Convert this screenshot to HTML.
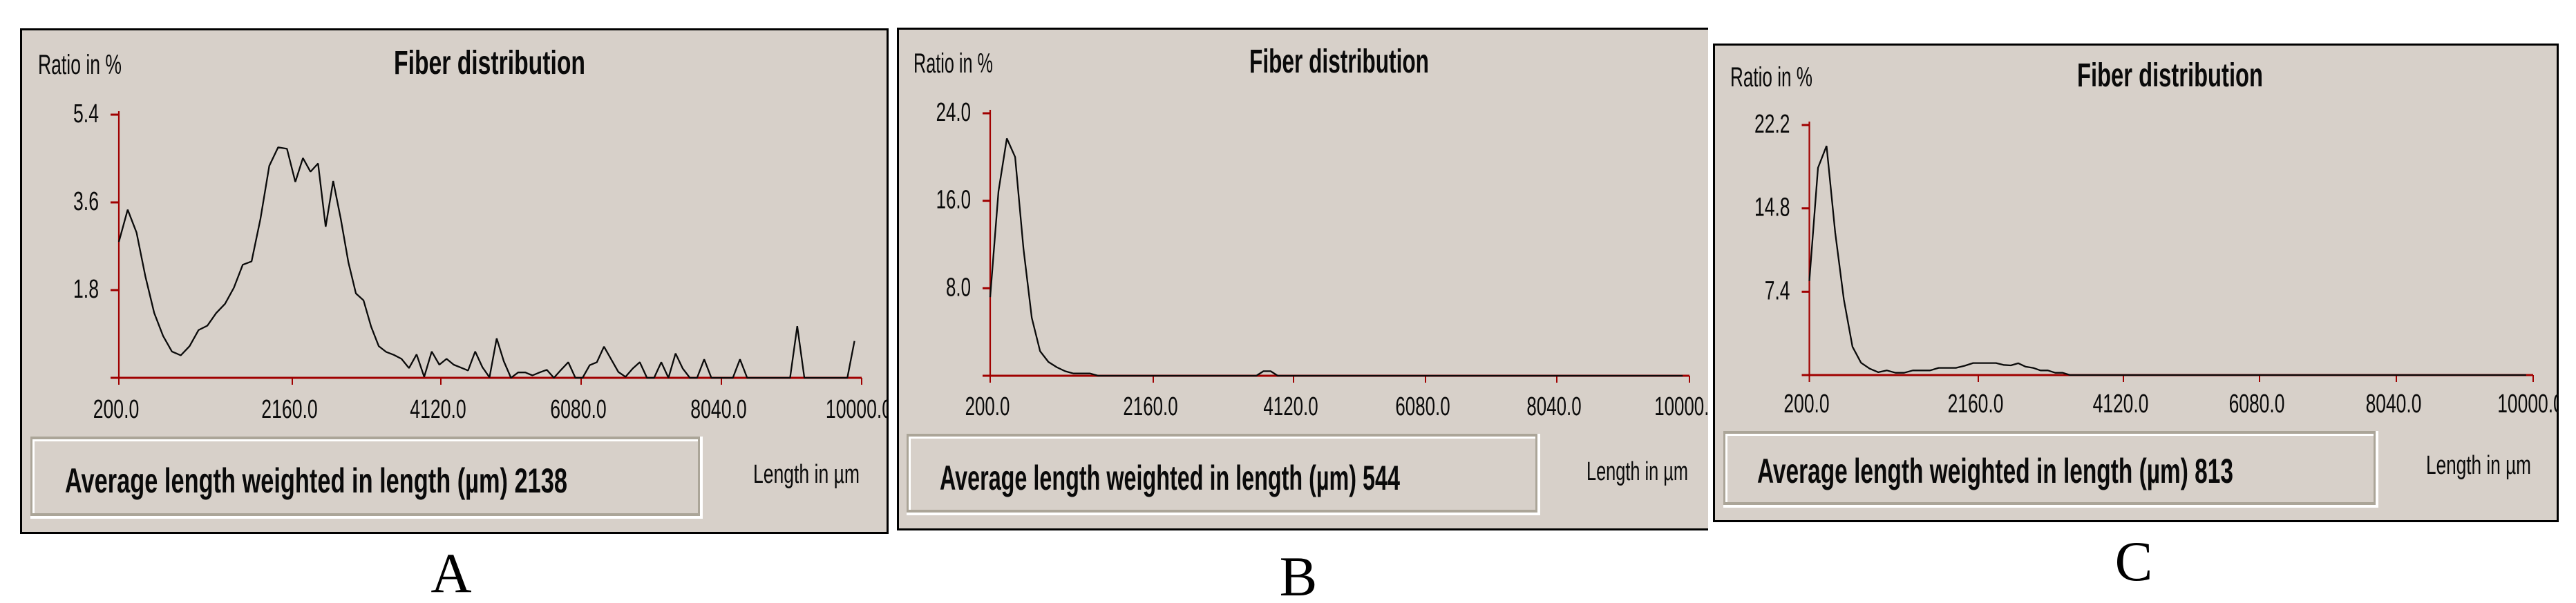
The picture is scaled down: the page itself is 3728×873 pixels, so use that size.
<!DOCTYPE html>
<html lang="en">
<head>
<meta charset="utf-8">
<title>Fiber distribution</title>
<style>
html,body{margin:0;padding:0;background:#fff;width:3728px;height:873px;overflow:hidden}
svg{display:block}
text{font-family:"Liberation Sans",sans-serif;fill:#0a0a0a}
.bold{font-weight:bold}
.cap{font-family:"Liberation Serif",serif;font-size:82px;fill:#000}
</style>
</head>
<body>
<svg id="figure" xmlns="http://www.w3.org/2000/svg" width="3728" height="873" viewBox="0 0 3728 873">
  <defs>
    <clipPath id="clip-a"><rect x="31" y="43" width="1252" height="728"/></clipPath>
    <clipPath id="clip-b"><rect x="1300" y="42" width="1171" height="724"/></clipPath>
    <clipPath id="clip-c"><rect x="2481" y="65" width="1222" height="689"/></clipPath>
  </defs>

  <g id="panel-a">
    <rect x="30.5" y="42.5" width="1254" height="729" fill="#d7d0c9" stroke="#000" stroke-width="3"/>
    <text x="55" y="107" font-size="40" textLength="121" lengthAdjust="spacingAndGlyphs">Ratio in %</text>
    <text class="bold" x="570" y="107" font-size="48" textLength="277" lengthAdjust="spacingAndGlyphs">Fiber distribution</text>
    <g>
      <rect x="44" y="632" width="973" height="119" fill="#fff"/>
      <rect x="44" y="632" width="969" height="115" fill="#aba598"/>
      <rect x="47" y="636" width="963" height="107" fill="#fff"/>
      <rect x="50" y="639" width="960" height="104" fill="#d7d0c9"/>
      <text class="bold" x="94" y="713" font-size="50" textLength="727" lengthAdjust="spacingAndGlyphs">Average length weighted in length (µm) 2138</text>
    </g>
    <text x="1090" y="699" font-size="38" textLength="154" lengthAdjust="spacingAndGlyphs">Length in µm</text>
  </g>

  <g id="panel-b">
    <rect x="1298" y="40" width="1174" height="728" fill="#d7d0c9"/>
    <path d="M2472 41.5H1299.5V766.5H2472" fill="none" stroke="#000" stroke-width="3"/>
    <text x="1322" y="105" font-size="40" textLength="115" lengthAdjust="spacingAndGlyphs">Ratio in %</text>
    <text class="bold" x="1808" y="105" font-size="48" textLength="260" lengthAdjust="spacingAndGlyphs">Fiber distribution</text>
    <g>
      <rect x="1312" y="628" width="917" height="118" fill="#fff"/>
      <rect x="1312" y="628" width="913" height="114" fill="#aba598"/>
      <rect x="1315" y="632" width="907" height="106" fill="#fff"/>
      <rect x="1318" y="635" width="904" height="103" fill="#d7d0c9"/>
      <text class="bold" x="1360" y="709" font-size="50" textLength="666" lengthAdjust="spacingAndGlyphs">Average length weighted in length (µm) 544</text>
    </g>
    <text x="2296" y="695" font-size="38" textLength="147" lengthAdjust="spacingAndGlyphs">Length in µm</text>
  </g>

  <g id="panel-c">
    <rect x="2480.5" y="64.5" width="1221" height="690" fill="#d7d0c9" stroke="#000" stroke-width="3"/>
    <text x="2504" y="125" font-size="40" textLength="119" lengthAdjust="spacingAndGlyphs">Ratio in %</text>
    <text class="bold" x="3006" y="125" font-size="48" textLength="269" lengthAdjust="spacingAndGlyphs">Fiber distribution</text>
    <g>
      <rect x="2494" y="624" width="948" height="111" fill="#fff"/>
      <rect x="2494" y="624" width="944" height="107" fill="#aba598"/>
      <rect x="2497" y="628" width="938" height="99" fill="#fff"/>
      <rect x="2500" y="631" width="935" height="96" fill="#d7d0c9"/>
      <text class="bold" x="2543" y="699" font-size="50" textLength="689" lengthAdjust="spacingAndGlyphs">Average length weighted in length (µm) 813</text>
    </g>
    <text x="3511" y="686" font-size="38" textLength="152" lengthAdjust="spacingAndGlyphs">Length in µm</text>
  </g>

  <text class="cap" x="653" y="857" text-anchor="middle">A</text>
  <text class="cap" x="1879" y="862" text-anchor="middle">B</text>
  <text class="cap" x="3088" y="840" text-anchor="middle">C</text>
</svg>

<script>
const lengthBins = [
  200,300,400,500,600,700,800,900,1000,1100,
  1200,1300,1400,1500,1600,1700,1800,1900,2000,2100,
  2200,2300,2400,2500,2600,2700,2800,2900,3000,3100,
  3200,3300,3400,3500,3600,3700,3800,3900,4000,4100,
  4200,4300,4400,4500,4600,4700,4800,4900,5000,5100,
  5200,5300,5400,5500,5600,5700,5800,5900,6000,6100,
  6200,6300,6400,6500,6600,6700,6800,6900,7000,7100,
  7200,7300,7400,7500,7600,7700,7800,7900,8000,8100,
  8200,8300,8400,8500,8600,8700,8800,8900,9000,9100,
  9200,9300,9400,9500,9600,9700,9800,9900
];
const ratioA = [
  2.79,3.45,2.98,2.08,1.33,0.86,0.54,0.46,0.65,0.98,
  1.07,1.33,1.52,1.85,2.32,2.39,3.26,4.35,4.73,4.70,
  4.02,4.51,4.23,4.40,3.10,4.04,3.26,2.37,1.73,1.59,
  1.05,0.65,0.53,0.47,0.39,0.20,0.48,0.02,0.54,0.27,
  0.39,0.27,0.21,0.15,0.54,0.22,0.01,0.81,0.34,0,
  0.11,0.11,0.05,0.11,0.165,0,0.165,0.32,0,0,
  0.26,0.32,0.64,0.38,0.12,0.02,0.19,0.32,0,0,
  0.32,0,0.5,0.19,0,0,0.38,0,0,0,
  0,0.38,0,0,0,0,0,0,0,1.06,
  0,0,0,0,0,0,0,0.755
];
const ratioB = [
  7.19,16.86,21.7,20.0,11.6,5.3,2.25,1.26,0.78,0.42,
  0.21,0.21,0.21,0,0,0,0,0,0,0,
  0,0,0,0,0,0,0,0,0,0,
  0,0,0,0,0,0.42,0.42,0,0,0,
  0,0,0,0,0,0,0,0,0,0,
  0,0,0,0,0,0,0,0,0,0,
  0,0,0,0,0,0,0,0,0,0,
  0,0,0,0,0,0,0,0,0,0,
  0,0,0,0,0,0,0,0,0,0,
  0,0,0,0,0,0,0,0
];
const ratioC = [
  8.36,18.4,20.35,12.66,6.72,2.52,1.09,0.57,0.25,0.41,
  0.2,0.2,0.41,0.41,0.41,0.64,0.64,0.64,0.82,1.07,
  1.07,1.07,1.07,0.9,0.86,1.05,0.74,0.64,0.41,0.41,
  0.2,0.2,0,0,0,0,0,0,0,0,
  0,0,0,0,0,0,0,0,0,0,
  0,0,0,0,0,0,0,0,0,0,
  0,0,0,0,0,0,0,0,0,0,
  0,0,0,0,0,0,0,0,0,0,
  0,0,0,0,0,0,0,0,0,0,
  0,0,0,0,0,0,0,0
];
const xTickLabels = [200,2160,4120,6080,8040,10000];
const yTicksA = [1.8,3.6,5.4];
const yTicksB = [8,16,24];
const yTicksC = [7.4,14.8,22.2];

const SVG_NS = 'http://www.w3.org/2000/svg';
const RED = '#a00000';

function makeXScale(knots){
  return function(v){
    let k = 0;
    while(k < xTickLabels.length - 2 && v > xTickLabels[k + 1]) k++;
    const t = (v - xTickLabels[k]) / (xTickLabels[k + 1] - xTickLabels[k]);
    return knots[k] + t * (knots[k + 1] - knots[k]);
  };
}
function makeYScale(base, top, maxVal){
  return function(v){
    return base - (v / maxVal) * (base - top);
  };
}
function addLine(parent, x1, y1, x2, y2, w, name){
  const el = document.createElementNS(SVG_NS, 'line');
  el.setAttribute('x1', x1);
  el.setAttribute('y1', y1);
  el.setAttribute('x2', x2);
  el.setAttribute('y2', y2);
  el.setAttribute('stroke', RED);
  el.setAttribute('stroke-width', w);
  
  
  parent.appendChild(el);
}
function addLabel(parent, str, x, y, width, name){
  const el = document.createElementNS(SVG_NS, 'text');
  el.setAttribute('x', x);
  el.setAttribute('y', y);
  el.setAttribute('font-size', '38');
  el.setAttribute('textLength', width);
  el.setAttribute('lengthAdjust', 'spacingAndGlyphs');
  
  
  el.textContent = str;
  parent.appendChild(el);
}
function labelWidth(str, unit){
  return (str.length - 0.5) * unit;
}

function drawPanel(id, key, values, yTicks, knots, base, top, tickLeft, xLabelBase, unit, clip){
  const root = document.getElementById(id);
  const xs = makeXScale(knots);
  const ys = makeYScale(base, top, yTicks[yTicks.length - 1]);

  const axes = document.createElementNS(SVG_NS, 'g');
  
  
  root.appendChild(axes);

  addLine(axes, xs(200), top - 5, xs(200), base, 2.2, 'y-axis-' + key);
  addLine(axes, tickLeft, base, xs(10000), base, 3, 'x-axis-' + key);

  yTicks.forEach(function(v){
    addLine(axes, tickLeft, ys(v), xs(200), ys(v), 3, 'y-tick-' + key);
    const s = v.toFixed(1);
    const w = labelWidth(s, unit);
    addLabel(axes, s, tickLeft - 17 - w, ys(v) + 11, w, 'y-tick-label-' + key);
  });

  const labels = document.createElementNS(SVG_NS, 'g');
  labels.setAttribute('clip-path', 'url(#' + clip + ')');
  
  
  root.appendChild(labels);

  xTickLabels.forEach(function(v){
    addLine(axes, xs(v), base, xs(v), base + 10, 2, 'x-tick-' + key);
    const s = v.toFixed(1);
    const w = labelWidth(s, unit);
    addLabel(labels, s, xs(v) - 4 - w / 2, xLabelBase, w, 'x-tick-label-' + key);
  });

  const pts = values.map(function(v, i){
    return xs(lengthBins[i]).toFixed(1) + ',' + ys(v).toFixed(1);
  }).join(' ');
  const line = document.createElementNS(SVG_NS, 'polyline');
  line.setAttribute('points', pts);
  line.setAttribute('fill', 'none');
  line.setAttribute('stroke', '#0a0a0a');
  line.setAttribute('stroke-width', '2.3');
  line.setAttribute('stroke-linejoin', 'bevel');
  
  
  root.appendChild(line);
}

drawPanel('panel-a', 'a', ratioA, yTicksA, [172,423,638,841,1044,1247], 547, 166, 160, 605, 14.8, 'clip-a');
drawPanel('panel-b', 'b', ratioB, yTicksB, [1433,1669,1872,2063,2253,2445], 544, 164, 1422, 601, 14.4, 'clip-b');
drawPanel('panel-c', 'c', ratioC, yTicksC, [2618.5,2863,3073,3270,3468,3666], 543, 181, 2607.5, 597, 14.7, 'clip-c');
</script>
</body>
</html>
